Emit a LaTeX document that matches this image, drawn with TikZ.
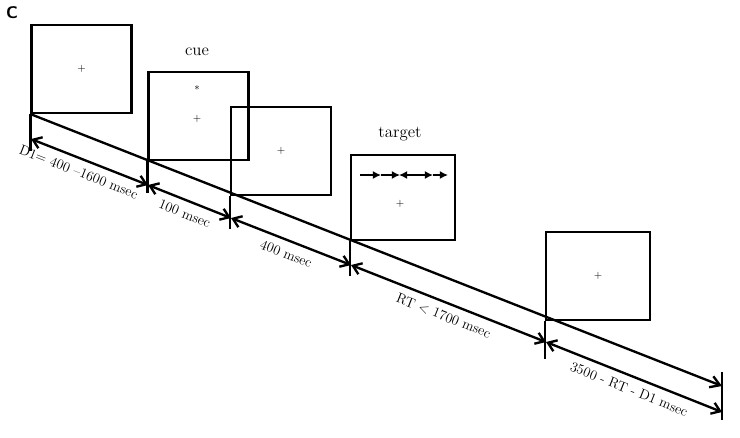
\documentclass[tikz,border=0pt]{standalone}
\usetikzlibrary{arrows.meta}
\begin{document}
\begin{tikzpicture}[x=0.03cm,y=-0.03cm,
                    >={Straight Barb[length=7pt,width=10pt]},
                    screen/.style={draw, line width=1.8pt, rectangle, minimum width=3cm, minimum height=2.64cm, inner sep=0pt},
                    fix/.style={font=\small},
                    lbl/.style={font=\large, sloped, below=5pt, inner sep=1pt},
                    tl/.style={line width=2pt},
                    ta/.style={line width=1.6pt, -{Latex[length=7pt,width=7pt]}}]

\useasboundingbox (0,0) rectangle (740,437);
\node[font=\sffamily\bfseries\Large] (lc) at (12,13) {C};

\node [screen] (b1) at (81.5,69) {};
\node [screen] (b2) at (198.5,116) {};
\node [screen] (b3) at (281,151) {};
\node [screen, minimum width=3.1cm, minimum height=2.55cm] (b4) at (403,197.5) {};
\node [screen, minimum width=3.1cm] (b5) at (598,276) {};

\node [fix] (p1) at (b1) {+};
\node [fix] (s2) at (197,90) {*};
\node [fix] (p2) at (197,119) {+};
\node [fix] (p3) at (b3) {+};
\node [fix] (p4) at (400,204) {+};
\node [fix] (p5) at (b5) {+};

\node [font=\Large] (cue) at (197,52) {cue};
\node [font=\Large] (tgt) at (400,134) {target};

% flanker row
\draw [ta] (360,175) -- (381,175);
\draw [ta] (381,175) -- (400,175);
\draw [ta] (420,175) -- (399,175);
\draw [ta] (420,175) -- (433,175);
\draw [ta] (433,175) -- (448,175);

% time line
\coordinate (end) at (722,386);
\coordinate (t1) at (31,139);
\coordinate (t2) at (148,185);
\coordinate (t3) at (231,218);
\coordinate (t4) at (351,265);
\coordinate (t5) at (546,342);
\coordinate (t6) at (722,412);

\draw [tl, -{Straight Barb[length=8pt,width=10pt]}] (b1.south west) -- (end);
\draw [tl] (b1.south west) -- ++(0,37);
\draw [tl] (b2.south west) -- ++(0,32);
\draw [tl] (b3.south west) -- ++(0,33);
\draw [tl] (b4.south west) -- ++(0,35);
\draw [tl] (b5.south west) -- ++(0,38);
\draw [tl] (722,372) -- (722,420);

\draw [tl, <->] (t1) -- node[lbl, pos=0.45] {D1= 400 --1600 msec} (t2);
\draw [tl, <->] (t2) -- node[lbl] {100 msec} (t3);
\draw [tl, <->] (t3) -- node[lbl] {400 msec} (t4);
\draw [tl, <->] (t4) -- node[lbl] {RT $<$ 1700 msec} (t5);
\draw [tl, <->] (t5) -- node[lbl] {3500 - RT - D1 msec} (t6);

\end{tikzpicture}
\end{document}
